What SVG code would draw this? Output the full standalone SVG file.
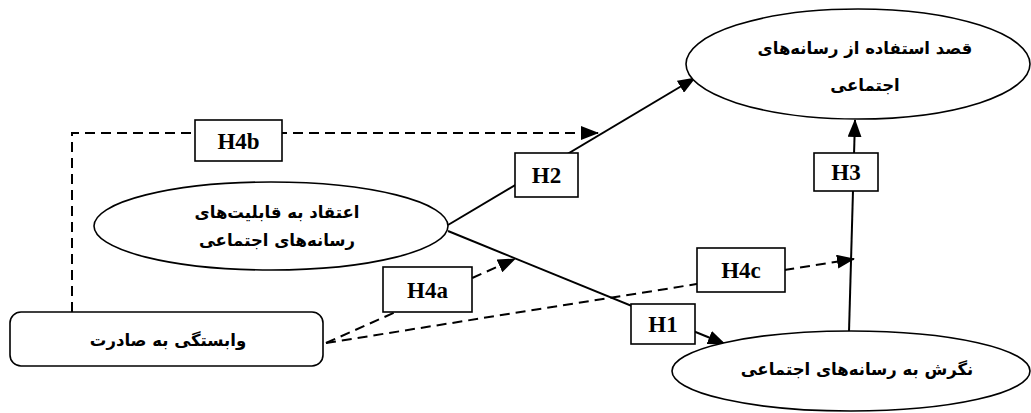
<svg xmlns="http://www.w3.org/2000/svg" width="1031" height="413" viewBox="0 0 1031 413">
<style>
.node{fill:#fff;stroke:#000;stroke-width:1.6}
.fa{font-family:"DejaVu Sans","Noto Sans",sans-serif;font-weight:bold;font-size:16.5px;fill:#000;text-anchor:middle}
.conn{fill:none;stroke:#000;stroke-width:2}
.dash{stroke-dasharray:10 6}
.lbl{fill:#fff;stroke:#000;stroke-width:1.6}
.lt{font-family:"Liberation Serif","Times New Roman",serif;font-weight:bold;font-size:23px;fill:#000;text-anchor:middle}
</style>
<defs>
<marker id="arr" markerUnits="userSpaceOnUse" markerWidth="18" markerHeight="14" refX="17" refY="7" orient="auto">
<path d="M0,0 L18,7 L0,14 z" fill="#000"/>
</marker>
</defs>
<rect width="1031" height="413" fill="#fff"/>
<g id="connectors">
<path class="conn dash" d="M72,312 V133 H598" marker-end="url(#arr)"/>
<line class="conn" x1="448" y1="225" x2="695" y2="78" marker-end="url(#arr)"/>
<line class="conn" x1="448" y1="231" x2="725" y2="344" marker-end="url(#arr)"/>
<line class="conn" x1="849" y1="332" x2="855" y2="120" marker-end="url(#arr)"/>
<line class="conn dash" x1="326" y1="343" x2="515" y2="259" marker-end="url(#arr)"/>
<line class="conn dash" x1="326" y1="343" x2="854" y2="259" marker-end="url(#arr)"/>
</g>
<g id="labels">
<g id="lbl-H4b"><rect class="lbl" x="195" y="120" width="87" height="41"/><text class="lt" x="238.5" y="149">H4b</text></g>
<g id="lbl-H2"><rect class="lbl" x="515" y="153" width="63" height="44"/><text class="lt" x="546.5" y="183">H2</text></g>
<g id="lbl-H3"><rect class="lbl" x="814" y="153" width="64" height="38"/><text class="lt" x="846" y="180">H3</text></g>
<g id="lbl-H4a"><rect class="lbl" x="383" y="267" width="89" height="45"/><text class="lt" x="427.5" y="298">H4a</text></g>
<g id="lbl-H4c"><rect class="lbl" x="697" y="248" width="88" height="44"/><text class="lt" x="741" y="278">H4c</text></g>
<g id="lbl-H1"><rect class="lbl" x="631" y="304" width="64" height="40"/><text class="lt" x="663" y="332">H1</text></g>
</g>
<g id="node-intention">
<ellipse class="node" cx="858" cy="64" rx="172" ry="55"/>
<text class="fa" x="865" y="54" direction="rtl">قصد استفاده از رسانه‌های</text>
<text class="fa" x="865" y="91" direction="rtl">اجتماعی</text>
</g>
<g id="node-belief">
<ellipse class="node" cx="271" cy="226" rx="177" ry="44"/>
<text class="fa" x="277" y="218" direction="rtl">اعتقاد به قابلیت‌های</text>
<text class="fa" x="277" y="246" direction="rtl">رسانه‌های اجتماعی</text>
</g>
<g id="node-dependency">
<rect class="node" x="10" y="312" width="313" height="54" rx="11" ry="11"/>
<text class="fa" x="168" y="346" direction="rtl">وابستگی به صادرت</text>
</g>
<g id="node-attitude">
<ellipse class="node" cx="851" cy="371" rx="179" ry="40"/>
<text class="fa" x="857" y="375" direction="rtl">نگرش به رسانه‌های اجتماعی</text>
</g>
</svg>
